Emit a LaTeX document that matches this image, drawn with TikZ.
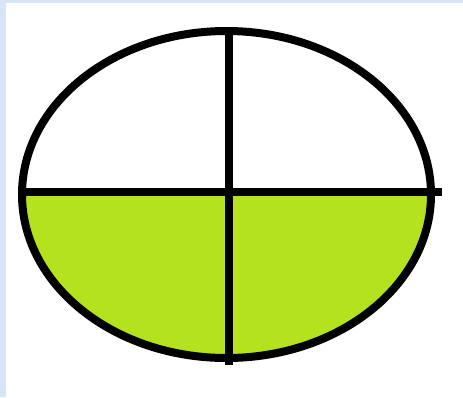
\documentclass[tikz,border=0pt]{standalone}
\usepackage{tikz}
\usetikzlibrary{calc}
\definecolor{paleblue}{RGB}{214,230,247}
\definecolor{limegreen}{RGB}{180,226,30}
\tikzset{divider/.style={line width=8pt, black}}

\begin{document}
\begin{tikzpicture}[x=1pt, y=-1pt]
  % Background and page edge
  \useasboundingbox (0,0) rectangle (463,397);
  \fill[white] (0,0) rectangle (463,397);
  \fill[paleblue] (0,0) rectangle (6,397);
  \fill[paleblue] (0,0) rectangle (463,3);
  % Key points
  \coordinate (centre) at (226.5,194.5);
  \coordinate (top) at (229,27);
  \coordinate (bottom) at (229,365);
  \coordinate (left) at (22,192);
  \coordinate (right) at (442,192);
  % Lower half filled
  \begin{scope}
    \clip (centre) ellipse [x radius=204.5, y radius=163.5];
    \fill[limegreen] (0,192) rectangle (463,397);
  \end{scope}
  % Outline
  \draw[line width=8pt] (centre) ellipse [x radius=204.5, y radius=163.5];
  % Dividing lines
  \draw[divider] (left) -- (right);
  \draw[divider] (top) -- (bottom);
\end{tikzpicture}
\end{document}
